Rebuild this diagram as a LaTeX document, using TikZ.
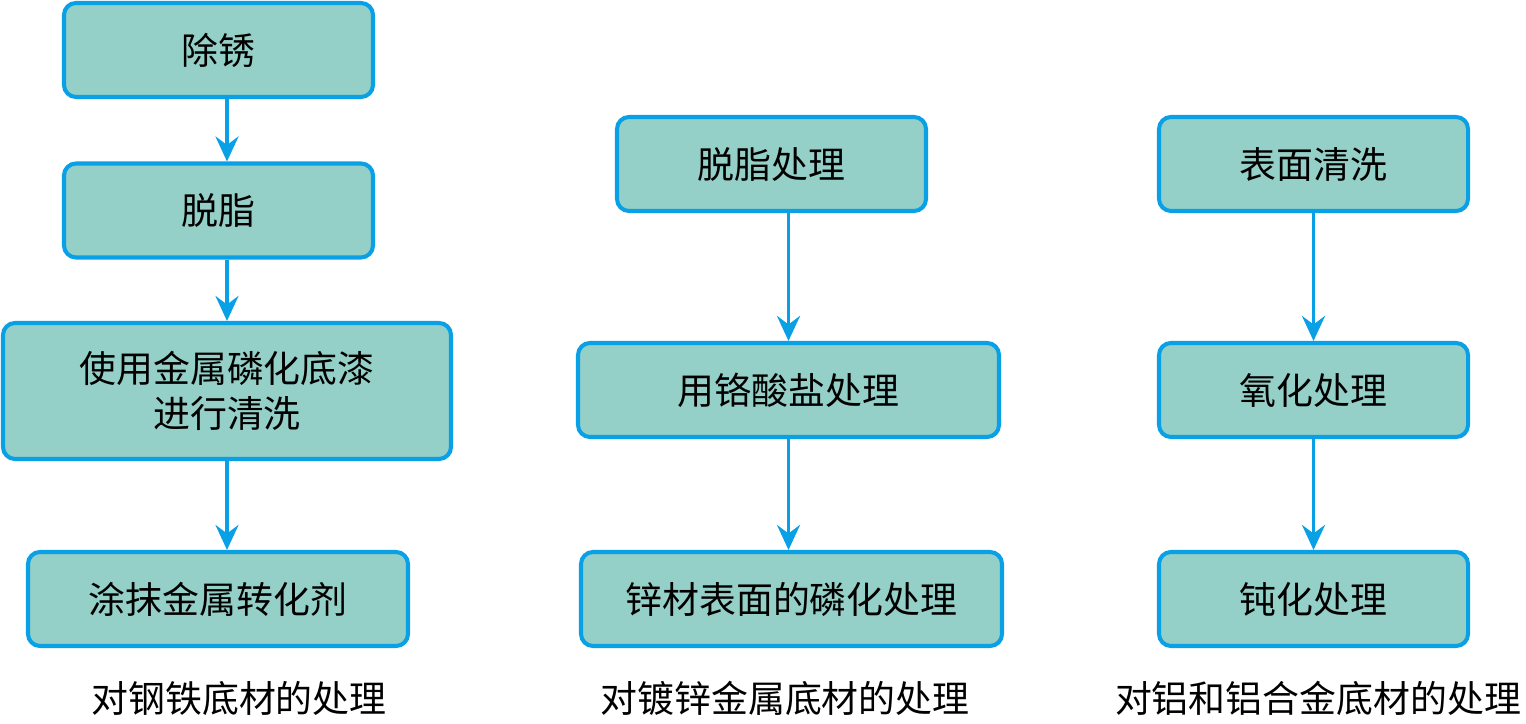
\documentclass[tikz,border=0pt]{standalone}
\usepackage{fontspec}
\setmainfont{Noto Sans CJK SC}
\usepackage{tikz}
\usepackage{xcolor}
\usetikzlibrary{arrows.meta,positioning}
\definecolor{boxfill}{HTML}{94D0C8}
\definecolor{boxline}{HTML}{0AA0E6}

\begin{document}
\begin{tikzpicture}[
  box/.style={rectangle, rounded corners=0.24cm, draw=boxline, line width=2.3pt, fill=boxfill, minimum height=1.88cm, align=center, font=\fontsize{21}{26}\selectfont},
  flow/.style={-{Stealth[length=0.5cm,width=0.46cm,inset=0.17cm]}, draw=boxline, line width=2.2pt},
  caption/.style={font=\fontsize{21}{26}\selectfont}]
\useasboundingbox (0,0) rectangle (30.52,14.46);

\node[box, minimum width=6.18cm](Rust) at (4.37,13.46) {除锈};
\node[box, minimum width=6.18cm](Degr) at (4.37,10.25) {脱脂};
\node[box, minimum width=8.96cm, minimum height=2.72cm](Prim) at (4.54,6.64) {使用金属磷化底漆\\进行清洗};
\node[box, minimum width=7.6cm](Conv) at (4.36,2.48) {涂抹金属转化剂};
	\draw[flow] (Rust.south -| Prim) to (Degr.north -| Prim);
	\draw[flow] (Degr.south -| Prim) to (Prim.north);
	\draw[flow] (Prim.south) to (Conv.north -| Prim);
\node[caption](Steel) at (4.78,0.5) {对钢铁底材的处理};

\node[box, minimum width=6.18cm](ZDegr) at (15.43,11.18) {脱脂处理};
\node[box, minimum width=8.42cm](Chro) at (15.77,6.66) {用铬酸盐处理};
\node[box, minimum width=8.42cm](ZPho) at (15.83,2.48) {锌材表面的磷化处理};
	\draw[flow] (ZDegr.south -| Chro) to (Chro.north);
	\draw[flow] (Chro.south) to (ZPho.north -| Chro);
\node[caption](Zinc) at (15.7,0.5) {对镀锌金属底材的处理};

\node[box, minimum width=6.18cm](Clean) at (26.27,11.18) {表面清洗};
\node[box, minimum width=6.18cm](Oxid) at (26.27,6.66) {氧化处理};
\node[box, minimum width=6.18cm](Pass) at (26.27,2.48) {钝化处理};
	\draw[flow] (Clean) to (Oxid);
	\draw[flow] (Oxid) to (Pass);
\node[caption](Alu) at (26.36,0.5) {对铝和铝合金底材的处理};
\end{tikzpicture}
\end{document}
